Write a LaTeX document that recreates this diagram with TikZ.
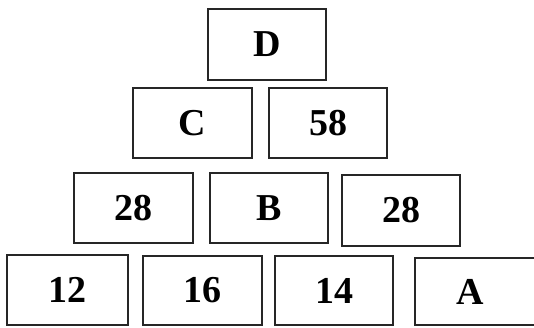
\documentclass[tikz,border=0pt]{standalone}
\usepackage{fontspec}
\setmainfont{Liberation Serif}
\begin{document}
\begin{tikzpicture}[x=1pt,y=-1pt,
  numbox/.style={draw=black!85, line width=1.4pt, inner sep=0pt,
    minimum width=118pt, minimum height=70pt,
    font=\bfseries\fontsize{38}{40}\selectfont}]
\useasboundingbox (0,0) rectangle (534,327);
\clip (0,0) rectangle (534,327);
\fill[white] (0,0) rectangle (534,327);
\node[numbox, minimum height=71pt] (d) at (267,44.5) {D};
\node[numbox, minimum width=119pt] (c) at (192.5,123) {C};
\node[numbox] (r2b) at (328,123) {58};
\node[numbox, minimum width=119pt] (r3a) at (133.5,208) {28};
\node[numbox] (b) at (269,208) {B};
\node[numbox, minimum height=71pt] (r3c) at (401,210.5) {28};
\node[numbox, minimum width=121pt] (r4a) at (67.5,290) {12};
\node[numbox, minimum width=119pt, minimum height=69pt] (r4b) at (202.5,290.5) {16};
\node[numbox, minimum height=69pt] (r4c) at (334,290.5) {14};
\node[numbox, minimum width=130pt, minimum height=67pt] (a) at (480,291.5) {A\kern20pt};
\end{tikzpicture}
\end{document}
